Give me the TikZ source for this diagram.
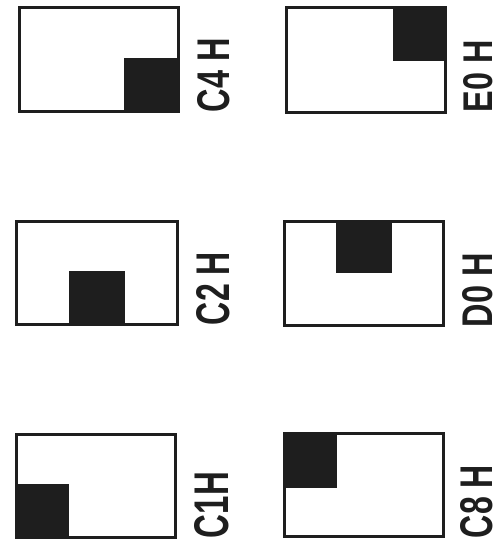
\documentclass[tikz,border=0pt]{standalone}
\usepackage{fontspec}
\usepackage{graphicx}
\newfontfamily\labfont{Liberation Sans}
\definecolor{ink}{HTML}{1E1E1E}
\tikzset{
  panel/.style={draw=ink, line width=2.8pt, fill=white},
  block/.style={fill=ink, draw=none},
  lab/.style={inner sep=0pt, rotate=90, text=ink}
}
\newcommand{\lbl}[3]{\resizebox{#1pt}{#2pt}{\labfont\bfseries #3}}
\begin{document}
\begin{tikzpicture}[x=1pt,y=-1pt]
\useasboundingbox (0,0) rectangle (499,552);
% C4 H
\draw[panel] (19.4,7.4) rectangle (178.6,111.6);
\fill[block] (124,58) rectangle (180,113);
\draw[draw=ink, line width=2.8pt] (19.4,7.4) rectangle (178.6,111.6);
\node[lab] (c4) at (214,75) {\lbl{74}{32}{C4 H}};
% E0 H
\draw[panel] (286.4,7.4) rectangle (445.6,112.6);
\fill[block] (393,6) rectangle (447,61);
\draw[draw=ink, line width=2.8pt] (286.4,7.4) rectangle (445.6,112.6);
\node[lab] (e0) at (478.5,76) {\lbl{72}{29}{E0 H}};
% C2 H
\draw[panel] (16.4,221.4) rectangle (177.6,324.6);
\fill[block] (69,271) rectangle (125,326);
\draw[draw=ink, line width=2.8pt] (16.4,221.4) rectangle (177.6,324.6);
\node[lab] (c2) at (213.5,288.5) {\lbl{73}{33}{C2 H}};
% D0 H
\draw[panel] (284.4,221.4) rectangle (443.6,325.6);
\fill[block] (336,220) rectangle (392,273);
\draw[draw=ink, line width=2.8pt] (284.4,221.4) rectangle (443.6,325.6);
\node[lab] (d0) at (478,290) {\lbl{74}{30}{D0 H}};
% C1H
\draw[panel] (16.4,434.4) rectangle (175.6,537.6);
\fill[block] (15,484) rectangle (69,539);
\draw[draw=ink, line width=2.8pt] (16.4,434.4) rectangle (175.6,537.6);
\node[lab] (c1) at (212,505) {\lbl{66}{34}{C1H}};
% C8 H
\draw[panel] (284.4,433.4) rectangle (443.6,536.6);
\fill[block] (283,432) rectangle (337,488);
\draw[draw=ink, line width=2.8pt] (284.4,433.4) rectangle (443.6,536.6);
\node[lab] (c8) at (477,501.5) {\lbl{73}{32}{C8 H}};
\end{tikzpicture}
\end{document}
